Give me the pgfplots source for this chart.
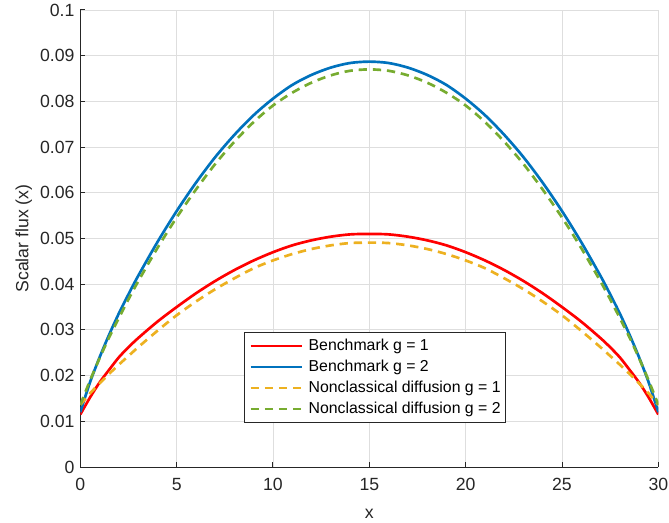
\documentclass[border=0pt]{standalone}
\usepackage{pgfplots}
\pgfplotsset{compat=1.18}
\usepackage{fontspec}
\setmainfont{Liberation Sans}
\usetikzlibrary{calc}
\definecolor{mred}{rgb}{1,0,0}
\definecolor{mblue}{rgb}{0,0.447,0.741}
\definecolor{myellow}{rgb}{0.929,0.694,0.125}
\definecolor{mgreen}{rgb}{0.466,0.674,0.188}
\definecolor{axcol}{rgb}{0.15,0.15,0.15}
\definecolor{gridcol}{rgb}{0.87,0.87,0.87}
\begin{document}
\begin{tikzpicture}
\begin{axis}[
  name=ax,
  scale only axis,
  width=346.8pt, height=274.2pt,
  xmin=0, xmax=30, ymin=0, ymax=0.1,
  axis lines*=left,
  axis line style={axcol, line width=0.6pt},
  xtick={0,5,...,30},
  ytick={0,0.01,...,0.1},
  tick align=inside,
  major tick length=3pt,
  tick style={axcol, line width=0.6pt},
  grid=major,
  major grid style={gridcol, line width=0.5pt},
  scaled y ticks=false,
  /pgf/number format/assume math mode=true,
  yticklabel style={/pgf/number format/fixed, /pgf/number format/precision=2},
  ticklabel style={font=\fontsize{10.6}{12.7}\selectfont, text=axcol},
  xticklabel style={yshift=-3pt},
  xlabel={x}, ylabel={Scalar flux (x)},
  label style={font=\fontsize{10.6}{12.7}\selectfont, text=axcol},
  xlabel style={yshift=-4.5pt},
  ylabel style={yshift=-2pt},
  legend cell align=left,
  legend image code/.code={\draw[#1] (0pt,0pt) -- (31pt,0pt);},
  legend style={at={(0.283,0.295)}, anchor=north west, draw=axcol, line width=0.5pt,
    font=\fontsize{9.5}{11}\selectfont, fill=white,
    inner xsep=3pt, inner ysep=3.5pt, row sep=3.6pt,
    nodes={inner sep=0pt, text height=7pt, text depth=2pt},
    /tikz/every odd column/.append style={column sep=3pt},
    /tikz/every even column/.append style={column sep=4pt}},
]
\addplot[mred, line width=1.6pt, smooth] coordinates {
(0,0.0115) (0.5,0.0152) (1,0.0185) (1.5,0.0213) (2,0.0240) (2.5,0.0262) (3,0.0282) (4,0.0318) (5,0.0350) (6,0.0380) (7,0.0407) (8,0.0431) (9,0.0452) (10,0.0470) (11,0.0485) (12,0.0496) (13,0.0504) (14,0.0509) (15,0.0510)
(16,0.0509) (17,0.0504) (18,0.0496) (19,0.0485) (20,0.0470) (21,0.0452) (22,0.0431) (23,0.0407) (24,0.0380) (25,0.0350) (26,0.0318) (27,0.0282) (27.5,0.0262) (28,0.0240) (28.5,0.0213) (29,0.0185) (29.5,0.0152) (30,0.0115)};
\addlegendentry{Benchmark g = 1}
\addplot[mblue, line width=1.6pt, smooth] coordinates {
(0,0.0120) (0.5,0.0185) (1,0.0240) (1.5,0.0290) (2,0.0336) (2.5,0.0378) (3,0.0418) (4,0.0492) (5,0.0560) (6,0.0622) (7,0.0678) (8,0.0727) (9,0.0770) (10,0.0806) (11,0.0836) (12,0.0858) (13,0.0874) (14,0.0884) (15,0.0887)
(16,0.0884) (17,0.0874) (18,0.0858) (19,0.0836) (20,0.0806) (21,0.0770) (22,0.0727) (23,0.0678) (24,0.0622) (25,0.0560) (26,0.0492) (27,0.0418) (27.5,0.0378) (28,0.0336) (28.5,0.0290) (29,0.0240) (29.5,0.0185) (30,0.0120)};
\addlegendentry{Benchmark g = 2}
\addplot[myellow, line width=1.6pt, dash pattern=on 5pt off 3.5pt, smooth] coordinates {
(0,0.0136) (0.5,0.0161) (1,0.0183) (1.5,0.0204) (2,0.0224) (2.5,0.0243) (3,0.0262) (4,0.0298) (5,0.0332) (6,0.0362) (7,0.0389) (8,0.0413) (9,0.0435) (10,0.0452) (11,0.0466) (12,0.0477) (13,0.0485) (14,0.0490) (15,0.0491)
(16,0.0490) (17,0.0485) (18,0.0477) (19,0.0466) (20,0.0452) (21,0.0435) (22,0.0413) (23,0.0389) (24,0.0362) (25,0.0332) (26,0.0298) (27,0.0262) (27.5,0.0243) (28,0.0224) (28.5,0.0204) (29,0.0183) (29.5,0.0161) (30,0.0136)};
\addlegendentry{Nonclassical diffusion g = 1}
\addplot[mgreen, line width=1.6pt, dash pattern=on 5pt off 3.5pt, smooth] coordinates {
(0,0.0136) (0.5,0.0189) (1,0.0238) (1.5,0.0284) (2,0.0326) (2.5,0.0367) (3,0.0406) (4,0.0479) (5,0.0546) (6,0.0607) (7,0.0663) (8,0.0712) (9,0.0755) (10,0.0791) (11,0.0819) (12,0.0841) (13,0.0857) (14,0.0867) (15,0.0870)
(16,0.0867) (17,0.0857) (18,0.0841) (19,0.0819) (20,0.0791) (21,0.0755) (22,0.0712) (23,0.0663) (24,0.0607) (25,0.0546) (26,0.0479) (27,0.0406) (27.5,0.0367) (28,0.0326) (28.5,0.0284) (29,0.0238) (29.5,0.0189) (30,0.0136)};
\addlegendentry{Nonclassical diffusion g = 2}
\end{axis}
\pgfresetboundingbox
\path ($(ax.south west)+(-48.2pt,-33pt)$) rectangle ($(ax.north east)+(6.4pt,6pt)$);
\end{tikzpicture}
\end{document}
